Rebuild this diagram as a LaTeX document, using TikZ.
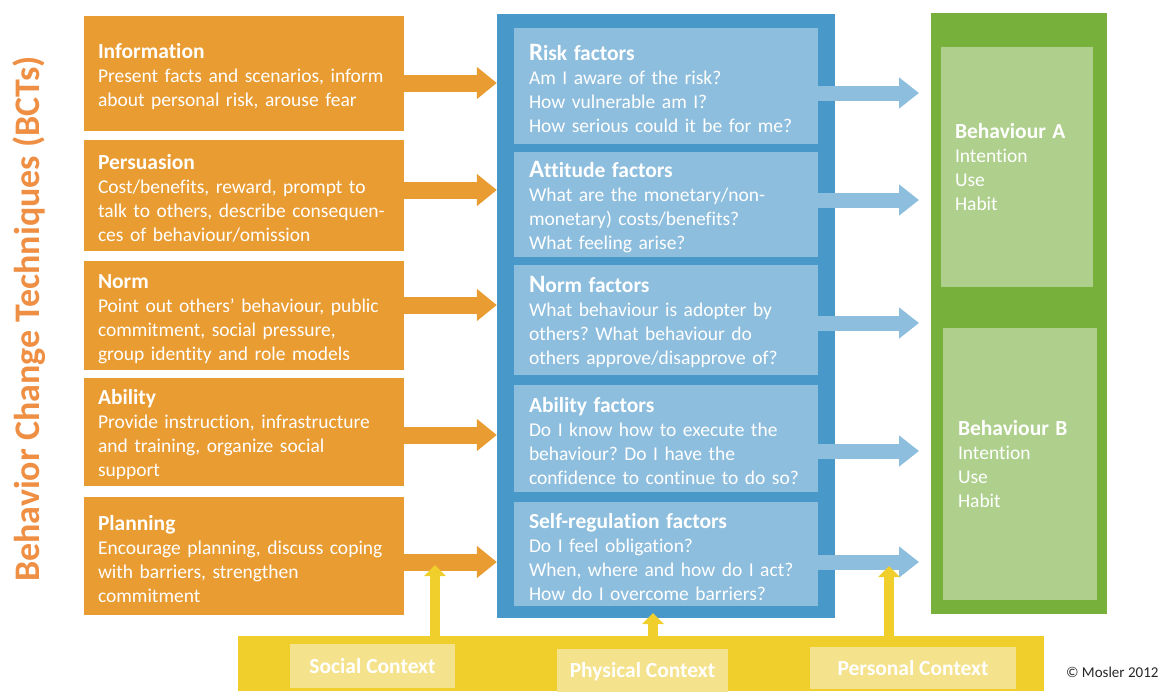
\documentclass[tikz,border=0pt]{standalone}
\usepackage{fontspec}
\setmainfont{Carlito}[Ligatures=CommonOff]
\usetikzlibrary{arrows.meta}
\definecolor{bctorange}{RGB}{233,156,50}
\definecolor{bcttitle}{RGB}{239,143,68}
\definecolor{factblue}{RGB}{73,152,202}
\definecolor{factlight}{RGB}{142,190,222}
\definecolor{behgreen}{RGB}{120,176,60}
\definecolor{behlight}{RGB}{174,208,140}
\definecolor{ctxyellow}{RGB}{240,207,45}
\definecolor{ctxlight}{RGB}{245,226,140}
\newcommand{\bctbody}{\fontsize{19.5}{24}\selectfont}
\newcommand{\bcthead}{\bfseries\fontsize{21.5}{24}\selectfont}
\newcommand{\bctlift}{\rule{0pt}{21pt}}
\newcommand{\bigone}[1]{{\fontsize{25}{24}\selectfont #1}}
\frenchspacing
\begin{document}
\begin{tikzpicture}[x=1pt,y=-1pt,
      obox/.style={fill=bctorange,text=white,inner xsep=14pt,inner ysep=0pt,
        text width=292pt,align=left,font=\bctbody},
      fbox/.style={fill=factlight,text=white,inner xsep=15pt,inner ysep=0pt,
        text width=274pt,align=left,font=\bctbody},
      gbox/.style={fill=behlight,text=white,inner xsep=14pt,inner ysep=0pt,
        text width=124pt,align=left,font=\bctbody},
      panel/.style={inner sep=0pt},
      cbox/.style={fill=ctxlight,text=white,inner sep=0pt,font=\bcthead},
      oarrow/.style={draw=bctorange,line width=17pt,
        -{Triangle[length=20pt,width=31pt]}},
      barrow/.style={draw=factlight,line width=15pt,
        -{Triangle[length=20pt,width=30pt]}},
      yarrow/.style={draw=ctxyellow,line width=10pt,
        -{Triangle[length=11pt,width=21pt]}},
      ]
        \useasboundingbox (0,0) rectangle (1164,691);

        \node [rotate=90,anchor=base,text=bcttitle,
          font=\bfseries\fontsize{36}{40}\selectfont] (bcts) at (39,319)
          {Behavior Change Techniques (BCTs)};

        % techniques
        \node [obox,minimum height=115pt] (info) at (244,73.5)
          {{\bcthead\bctlift Information}\\Present facts and scenarios, inform\\
           about personal risk, arouse fear};
        \node [obox,minimum height=111pt] (pers) at (244,195.5)
          {{\bcthead\bctlift Persuasion}\\Cost/benefits, reward, prompt to\\
           talk to others, describe consequen-\\ces of behaviour/omission};
        \node [obox,minimum height=109pt] (norm) at (244,315.5)
          {{\bcthead\bctlift Norm}\\Point out others’ behaviour, public\\
           commitment, social pressure,\\group identity and role models};
        \node [obox,minimum height=108pt] (abil) at (244,432)
          {{\bcthead\bctlift Ability}\\Provide instruction, infrastructure\\
           and training, organize social\\support};
        \node [obox,minimum height=118pt] (plan) at (244,556)
          {{\bcthead\bctlift Planning}\\Encourage planning, discuss coping\\
           with barriers, strengthen\\commitment};

        % factors
        \node [panel,fill=factblue,minimum width=338pt,minimum height=604pt]
          (factors) at (666,316) {};
        \node [fbox,minimum height=116pt] (risk) at (666,86)
          {{\bcthead\bctlift\bigone{R}isk factors}\\Am I aware of the risk?\\
           How vulnerable am I?\\How serious could it be for me?};
        \node [fbox,minimum height=105pt] (att) at (666,204.5)
          {{\bcthead\bctlift\bigone{A}ttitude factors}\\What are the monetary/non-\\
           monetary) costs/benefits?\\What feeling arise?};
        \node [fbox,minimum height=110pt] (normf) at (666,320)
          {{\bcthead\bctlift\bigone{N}orm factors}\\What behaviour is adopter by\\
           others? What behaviour do\\others approve/disapprove of?};
        \node [fbox,minimum height=107pt] (abilf) at (666,438.5)
          {{\bcthead\bctlift Ability factors}\\Do I know how to execute the\\
           behaviour? Do I have the\\confidence to continue to do so?};
        \node [fbox,minimum height=104pt] (self) at (666,554)
          {{\bcthead\bctlift Self-regulation factors}\\Do I feel obligation?\\
           When, where and how do I act?\\How do I overcome barriers?};

        % behaviours
        \node [panel,fill=behgreen,minimum width=176pt,minimum height=601pt]
          (behav) at (1019,313.5) {};
        \node [gbox,minimum height=240pt] (behA) at (1017,167)
          {{\bcthead Behaviour A}\\Intention\\Use\\Habit};
        \node [gbox,minimum height=272pt,inner xsep=15pt] (behB) at (1020,464)
          {{\bcthead Behaviour B}\\Intention\\Use\\Habit};

        \draw [oarrow] (info.east |- 0,83) -- (factors.west |- 0,83);
        \draw [oarrow] (pers.east |- 0,190) -- (factors.west |- 0,190);
        \draw [oarrow] (norm.east |- 0,305) -- (factors.west |- 0,305);
        \draw [oarrow] (abil.east |- 0,435) -- (factors.west |- 0,435);
        \draw [oarrow] (plan.east |- 0,562) -- (factors.west |- 0,562);

        \coordinate (btip) at (919,0);
        \draw [barrow] (risk.east |- 0,93) -- (btip |- 0,93);
        \draw [barrow] (att.east |- 0,200) -- (btip |- 0,200);
        \draw [barrow] (normf.east |- 0,323) -- (btip |- 0,323);
        \draw [barrow] (abilf.east |- 0,451) -- (btip |- 0,451);
        \draw [barrow] (self.east |- 0,562) -- (btip |- 0,562);

        % context
        \node [panel,fill=ctxyellow,minimum width=806pt,minimum height=55pt]
          (context) at (641,663.5) {};
        \node [cbox,minimum width=165pt,minimum height=44pt] (social)
          at (372.5,666) {Social Context};
        \node [cbox,minimum width=171pt,minimum height=46pt] (physical)
          at (642.5,672) {Physical Context};
        \node [cbox,minimum width=206pt,minimum height=42pt] (personal)
          at (913,668) {Personal Context};

        \coordinate (socialtip) at (435,565);
        \coordinate (physicaltip) at (653,613);
        \coordinate (personaltip) at (889,566);
        \draw [yarrow] (context.north -| socialtip) -- (socialtip);
        \draw [yarrow] (context.north -| physicaltip) -- (physicaltip);
        \draw [yarrow] (context.north -| personaltip) -- (personaltip);

        \node [anchor=east,text=black!85,font=\fontsize{15}{18}\selectfont]
          (copy) at (1162,672) {© Mosler 2012};
      \end{tikzpicture}
\end{document}
